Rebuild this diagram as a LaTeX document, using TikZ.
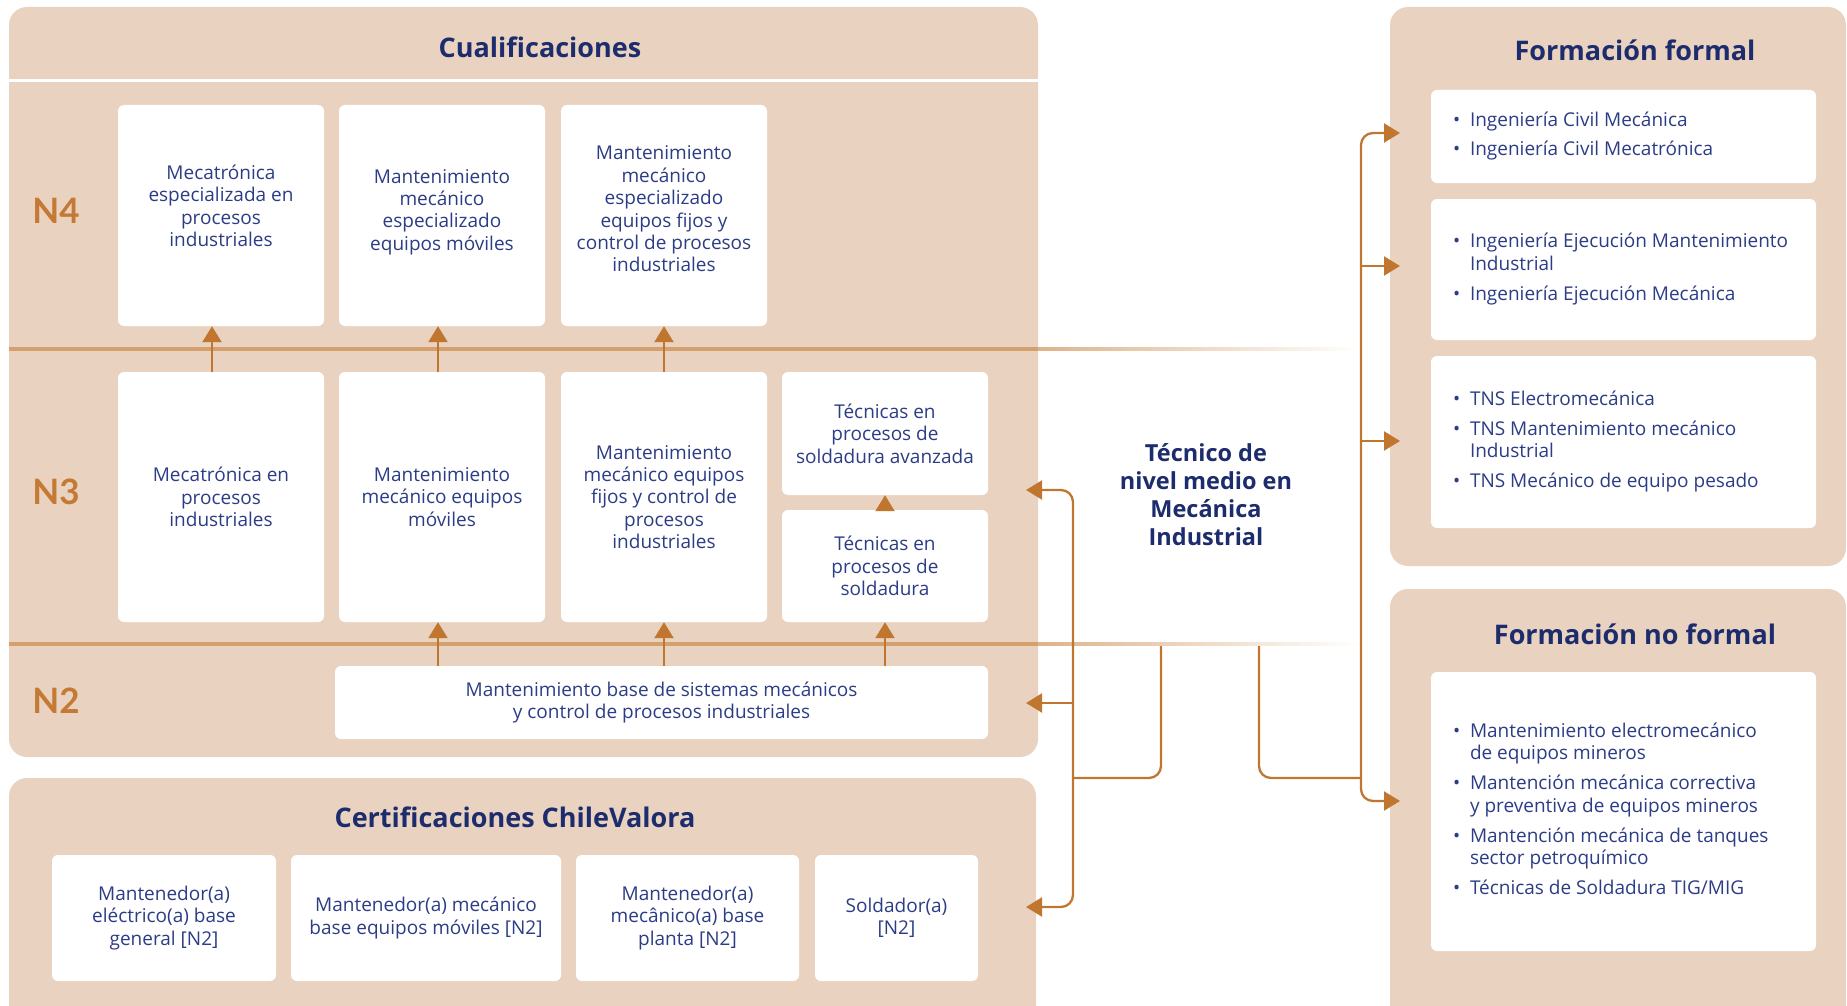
\documentclass[tikz,border=0pt]{standalone}
\usepackage{fontspec}
\setmainfont{Open Sans}
\newfontfamily\latof{Lato}
\usetikzlibrary{arrows.meta,calc}
\definecolor{panel}{HTML}{E9D3C0}
\definecolor{navy}{HTML}{1C2C6C}
\definecolor{bodyblue}{HTML}{2C3D86}
\definecolor{arr}{HTML}{C0762F}
\definecolor{lvlc}{HTML}{D4A06D}
\definecolor{nlab}{HTML}{C47A34}
\newcommand{\bodyf}{\fontsize{19}{22.4}\selectfont}
\newcommand{\titlef}{\fontsize{27}{30}\selectfont\bfseries}
\newcommand{\lvlf}{\latof\fontsize{35}{40}\selectfont\bfseries}
\newcommand{\tecf}{\fontsize{23.5}{27.8}\selectfont\bfseries}
\newcommand{\blt}{\makebox[17pt][l]{•}}
\tikzset{
  wbox/.style={fill=white, rounded corners=6pt, inner sep=0pt, text=bodyblue, font=\bodyf, align=center},
  btext/.style={inner sep=0pt, text=bodyblue, font=\bodyf, align=center},
  listt/.style={inner sep=0pt, text=bodyblue, font=\bodyf, anchor=west},
  conn/.style={draw=arr, line width=2.3pt, -{Triangle[length=16pt,width=19pt]}},
  connl/.style={draw=arr, line width=2.3pt},
  ttl/.style={font=\titlef, text=navy, inner sep=0pt},
  nlevel/.style={font=\lvlf, text=nlab, inner sep=0pt},
  lvline/.style={draw=lvlc, line width=3.5pt},
}
\begin{document}
\begin{tikzpicture}[x=1pt,y=-1pt]
\useasboundingbox (0,0) rectangle (1847,1006);
\begin{scope}
\clip (0,0) rectangle (1847,1006);
% panels
\fill[panel, rounded corners=18pt] (9,7) rectangle (1038,757);
\fill[panel, rounded corners=18pt] (9,778) rectangle (1036,1040);
\fill[panel, rounded corners=18pt] (1390,7) rectangle (1846,566);
\fill[panel, rounded corners=18pt] (1390,589) rectangle (1846,1040);
\end{scope}
% header separator
\draw[white, line width=3pt] (9,81) -- (1038,81);
% level lines
\draw[lvline] (9,349) -- (1038,349);
\shade[left color=lvlc!80, right color=white] (1038,347.25) rectangle (1360,350.75);
\draw[lvline] (9,644) -- (1038,644);
\shade[left color=lvlc!80, right color=white] (1038,642.25) rectangle (1360,645.75);

% titles
\node[ttl] (tcual) at (540,47) {Cualificaciones};
\node[ttl] (tcert) at (515,817) {Certificaciones ChileValora};
\node[ttl] (tff) at (1635,50) {Formación formal};
\node[ttl] (tnf) at (1635,634) {Formación no formal};

% level labels
\node[nlevel] (ln4) at (56,211) {N4};
\node[nlevel] (ln3) at (56,492) {N3};
\node[nlevel] (ln2) at (56,701) {N2};

% N4 boxes
\node[wbox, minimum width=206pt, minimum height=221pt] (n4a) at (221,215.5) {};
\node[wbox, minimum width=206pt, minimum height=221pt] (n4b) at (442,215.5) {};
\node[wbox, minimum width=206pt, minimum height=221pt] (n4c) at (664,215.5) {};
\node[btext] (n4at) at (221,206) {Mecatrónica\\especializada en\\procesos\\industriales};
\node[btext] (n4bt) at (442,212) {Mantenimiento\\mecánico\\especializado\\equipos móviles};
\node[btext] (n4ct) at (664,209) {Mantenimiento\\mecánico\\especializado\\equipos fijos y\\control de procesos\\industriales};

% N3 boxes
\node[wbox, minimum width=206pt, minimum height=250pt] (n3a) at (221,497) {Mecatrónica en\\procesos\\industriales};
\node[wbox, minimum width=206pt, minimum height=250pt] (n3b) at (442,497) {Mantenimiento\\mecánico equipos\\móviles};
\node[wbox, minimum width=206pt, minimum height=250pt] (n3c) at (664,497) {Mantenimiento\\mecánico equipos\\fijos y control de\\procesos\\industriales};
\node[wbox, minimum width=206pt, minimum height=123pt] (solda) at (885,433.5) {Técnicas en\\procesos de\\soldadura avanzada};
\node[wbox, minimum width=206pt, minimum height=112pt] (sold) at (885,566) {Técnicas en\\procesos de\\soldadura};

% N2 box
\node[wbox, minimum width=653pt, minimum height=73pt] (n2) at (661.5,702.5) {Mantenimiento base de sistemas mecánicos\\y control de procesos industriales};

% certification boxes
\node[wbox, minimum width=224pt, minimum height=126pt] (c1) at (164,918) {Mantenedor(a)\\eléctrico(a) base\\general [N2]};
\node[wbox, minimum width=270pt, minimum height=126pt] (c2) at (426,918) {Mantenedor(a) mecánico\\base equipos móviles [N2]};
\node[wbox, minimum width=223pt, minimum height=126pt] (c3) at (687.5,918) {Mantenedor(a)\\mecânico(a) base\\planta [N2]};
\node[wbox, minimum width=163pt, minimum height=126pt] (c4) at (896.5,918) {Soldador(a)\\{[N2]}};

% formal boxes
\node[wbox, minimum width=385pt, minimum height=93pt] (ff1) at (1623.5,136.5) {};
\node[wbox, minimum width=385pt, minimum height=141pt] (ff2) at (1623.5,269.5) {};
\node[wbox, minimum width=385pt, minimum height=172pt] (ff3) at (1623.5,442) {};
\node[wbox, minimum width=385pt, minimum height=279pt] (nf) at (1623.5,811.5) {};

\node[listt] (ff1t) at ([xshift=22pt]ff1.west) {\begin{tabular}{@{}l@{}l@{}}\blt&Ingeniería Civil Mecánica\\[7.5pt]\blt&Ingeniería Civil Mecatrónica\end{tabular}};
\node[listt] (ff2t) at ([xshift=22pt]ff2.west) {\begin{tabular}{@{}l@{}l@{}}\blt&Ingeniería Ejecución Mantenimiento\\&Industrial\\[7.5pt]\blt&Ingeniería Ejecución Mecánica\end{tabular}};
\node[listt] (ff3t) at ([xshift=22pt]ff3.west) {\begin{tabular}{@{}l@{}l@{}}\blt&TNS Electromecánica\\[7.5pt]\blt&TNS Mantenimiento mecánico\\&Industrial\\[7.5pt]\blt&TNS Mecánico de equipo pesado\end{tabular}};
\node[listt] (nft) at ([xshift=22pt]nf.west) {\begin{tabular}{@{}l@{}l@{}}\blt&Mantenimiento electromecánico\\&de equipos mineros\\[7.5pt]\blt&Mantención mecánica correctiva\\&y preventiva de equipos mineros\\[7.5pt]\blt&Mantención mecánica de tanques\\&sector petroquímico\\[7.5pt]\blt&Técnicas de Soldadura TIG/MIG\end{tabular}};

% central node
\node[font=\tecf, text=navy, align=center, inner sep=0pt] (tec) at (1206,494.5) {Técnico de\\nivel medio en\\Mecánica\\Industrial};

% arrows inside Cualificaciones
\draw[conn] ([xshift=-9pt]n3a.north) -- ([xshift=-9pt]n4a.south);
\draw[conn] ([xshift=-4pt]n3b.north) -- ([xshift=-4pt]n4b.south);
\draw[conn] (n3c.north) -- (n4c.south);
\draw[conn] ([xshift=-4pt]n3b.south |- n2.north) -- ([xshift=-4pt]n3b.south);
\draw[conn] (n3c.south |- n2.north) -- (n3c.south);
\draw[conn] (sold.south |- n2.north) -- (sold.south);
\draw[conn] (sold.north) -- (solda.south);

% connector coordinates
\coordinate (tl) at (1161,646);
\coordinate (tr) at (1259,646);
\coordinate (jl) at (1073,778);
\coordinate (jr) at (1361,778);
\coordinate (q3) at (1026,490);
\coordinate (q2) at (1026,703);
\coordinate (qc) at (1026,907);
\coordinate (r1) at (1400,133);
\coordinate (r2) at (1400,266);
\coordinate (r3) at (1400,441);
\coordinate (r4) at (1400,801);

% left side connectors
\draw[connl, rounded corners=12pt] (tl) |- (jl);
\draw[conn, rounded corners=12pt] (jl) |- (q3);
\draw[conn] (jl |- q2) -- (q2);
\draw[conn, rounded corners=12pt] (jl) |- (qc);
% right side connectors
\draw[connl, rounded corners=12pt] (tr) |- (jr);
\draw[conn, rounded corners=12pt] (jr) |- (r1);
\draw[conn] (jr |- r2) -- (r2);
\draw[conn] (jr |- r3) -- (r3);
\draw[conn, rounded corners=12pt] (jr) |- (r4);
\end{tikzpicture}
\end{document}
